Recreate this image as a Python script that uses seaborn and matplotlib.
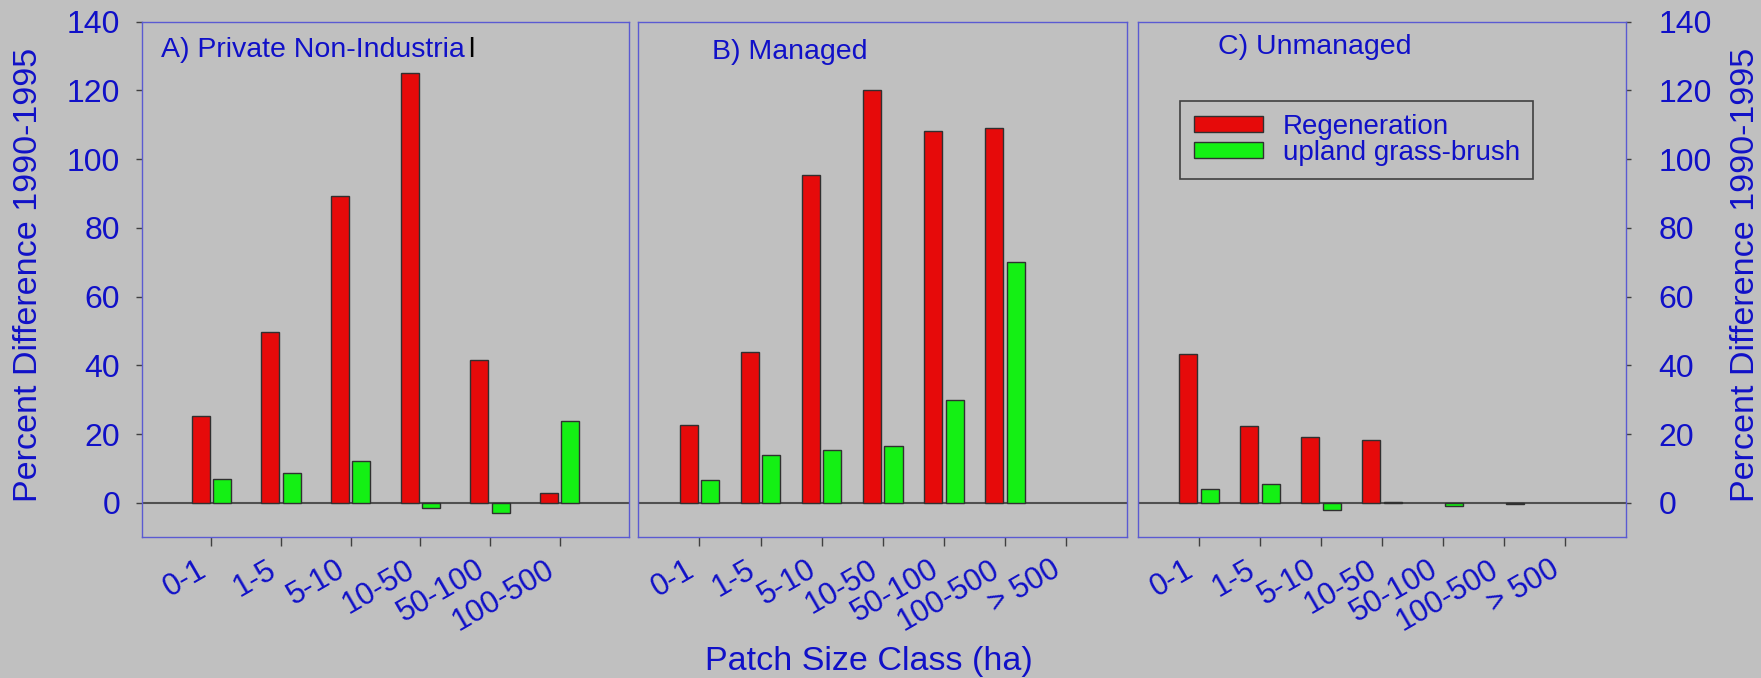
import numpy as np
import pandas as pd
import matplotlib
matplotlib.use('Agg')
import matplotlib.pyplot as plt
import matplotlib.patches as mpatches
import seaborn as sns

# Clases de tamaño y tipos de cobertura
size_classes = ['0-1', '1-5', '5-10', '10-50', '50-100', '100-500', '> 500']
cover_types = ['Regeneration', 'upland grass-brush']

# Valores (% diferencia 1990-1995)
pni_regen = [25.4, 49.7, 89.3, 125.2, 41.7, 2.9]
pni_grass = [7.1, 8.7, 12.1, -1.4, -2.9, 23.7]
managed_regen = [22.8, 43.9, 95.4, 120.0, 108.3, 109.2]
managed_grass = [6.8, 13.9, 15.5, 16.5, 30.0, 70.0]
unmanaged_regen = [43.4, 22.5, 19.2, 18.2, np.nan, np.nan]
unmanaged_grass = [4.2, 5.5, -2.1, 0.3, -1.0, -0.3]

panel_titles = ['A) Private Non-Industria', 'B) Managed', 'C) Unmanaged']
y_ticks = [0, 20, 40, 60, 80, 100, 120, 140]

BG = '#c0c0c0'
BLUE = '#1010c8'
SPINE = '#5a5ad2'
DARK = '#404040'
palette = {'Regeneration': '#e60a0a', 'upland grass-brush': '#14f014'}


def to_long(regen, grass):
    rows = []
    for cls, r, g in zip(size_classes, regen, grass):
        rows.append({'size': cls, 'cover': cover_types[0], 'pct': r})
        rows.append({'size': cls, 'cover': cover_types[1], 'pct': g})
    return pd.DataFrame(rows).dropna()


sns.set_style('ticks')
plt.rcParams['font.family'] = ['Liberation Sans', 'DejaVu Sans']

fig = plt.figure(figsize=(17.61, 6.78), dpi=100, facecolor=BG)

panels = [
    (to_long(pni_regen, pni_grass), size_classes[:6], [0.0804, 0.2075, 0.2769, 0.7605], 0.614, (0.040, 0.931)),
    (to_long(managed_regen, managed_grass), size_classes, [0.3625, 0.2075, 0.2775, 0.7605], 0.705, (0.150, 0.927)),
    (to_long(unmanaged_regen, unmanaged_grass), size_classes, [0.6462, 0.2075, 0.2771, 0.7605], 0.705, (0.165, 0.937)),
]

axes = []
for i, (df, order, rect, w, tpos) in enumerate(panels):
    ax = fig.add_axes(rect)
    ax.set_facecolor(BG)
    ax.axhline(0, color='#505050', lw=1.5, zorder=1)
    sns.barplot(data=df, x='size', y='pct', hue='cover', order=order,
                hue_order=cover_types, palette=palette, saturation=1,
                errorbar=None, width=w, gap=0.16, edgecolor='#303030',
                linewidth=1, legend=False, ax=ax, zorder=2)
    ax.set_xlim(-1, len(order))
    ax.set_ylim(-10, 140)
    ax.set_xlabel('')
    ax.set_ylabel('')
    for s in ax.spines.values():
        s.set_visible(True)
        s.set_color(SPINE)
        s.set_linewidth(1.0)
    ax.tick_params(axis='x', length=6.5, width=1, color=DARK, pad=6,
                   labelsize=22, labelcolor=BLUE)
    plt.setp(ax.get_xticklabels(), rotation=30, ha='right')
    ax.set_yticks(y_ticks)
    t = ax.text(tpos[0], tpos[1], panel_titles[i], transform=ax.transAxes,
                fontsize=20.5, color=BLUE, va='baseline', ha='left')
    if i == 0:
        ax.annotate('l', xy=(1, 0), xycoords=t, xytext=(2.5, 0),
                    textcoords='offset points', va='bottom', ha='left',
                    fontsize=20.5, color='black')
    axes.append(ax)

# eje y izquierdo (A), sin eje en B, derecho en C
axes[0].tick_params(axis='y', left=True, right=False, length=4.3, width=1,
                    color=DARK, pad=11, labelsize=23, labelcolor=BLUE)
axes[1].tick_params(axis='y', left=False, right=False, labelleft=False)
axes[2].yaxis.tick_right()
axes[2].tick_params(axis='y', left=False, right=True, labelleft=False,
                    labelright=True, length=3.6, width=1, color=DARK, pad=20,
                    labelsize=23, labelcolor=BLUE)

handles = [mpatches.Patch(facecolor=palette[c], edgecolor='#303030', lw=1)
           for c in cover_types]
leg = axes[2].legend(handles, cover_types, loc='upper left',
                     bbox_to_anchor=(0.087, 0.847), borderaxespad=0,
                     fontsize=20, handlelength=2.5, handleheight=0.46,
                     handletextpad=0.7, borderpad=0.48, labelspacing=0.0,
                     fancybox=False, framealpha=1, facecolor=BG,
                     edgecolor=DARK, labelcolor=BLUE)
leg.get_frame().set_linewidth(1.2)

fig.text(28.5 / 1761, 1 - 275 / 678, 'Percent Difference 1990-1995',
         rotation=90, ha='center', va='center', fontsize=24.5, color=BLUE)
fig.text(1746 / 1761, 1 - 275 / 678, 'Percent Difference 1990-1995',
         rotation=90, ha='center', va='center', fontsize=24.5, color=BLUE)
fig.text(869 / 1761, 8 / 678, 'Patch Size Class (ha)', ha='center',
         va='baseline', fontsize=24.5, color=BLUE)

fig.savefig('out.png', dpi=100, facecolor=BG)
